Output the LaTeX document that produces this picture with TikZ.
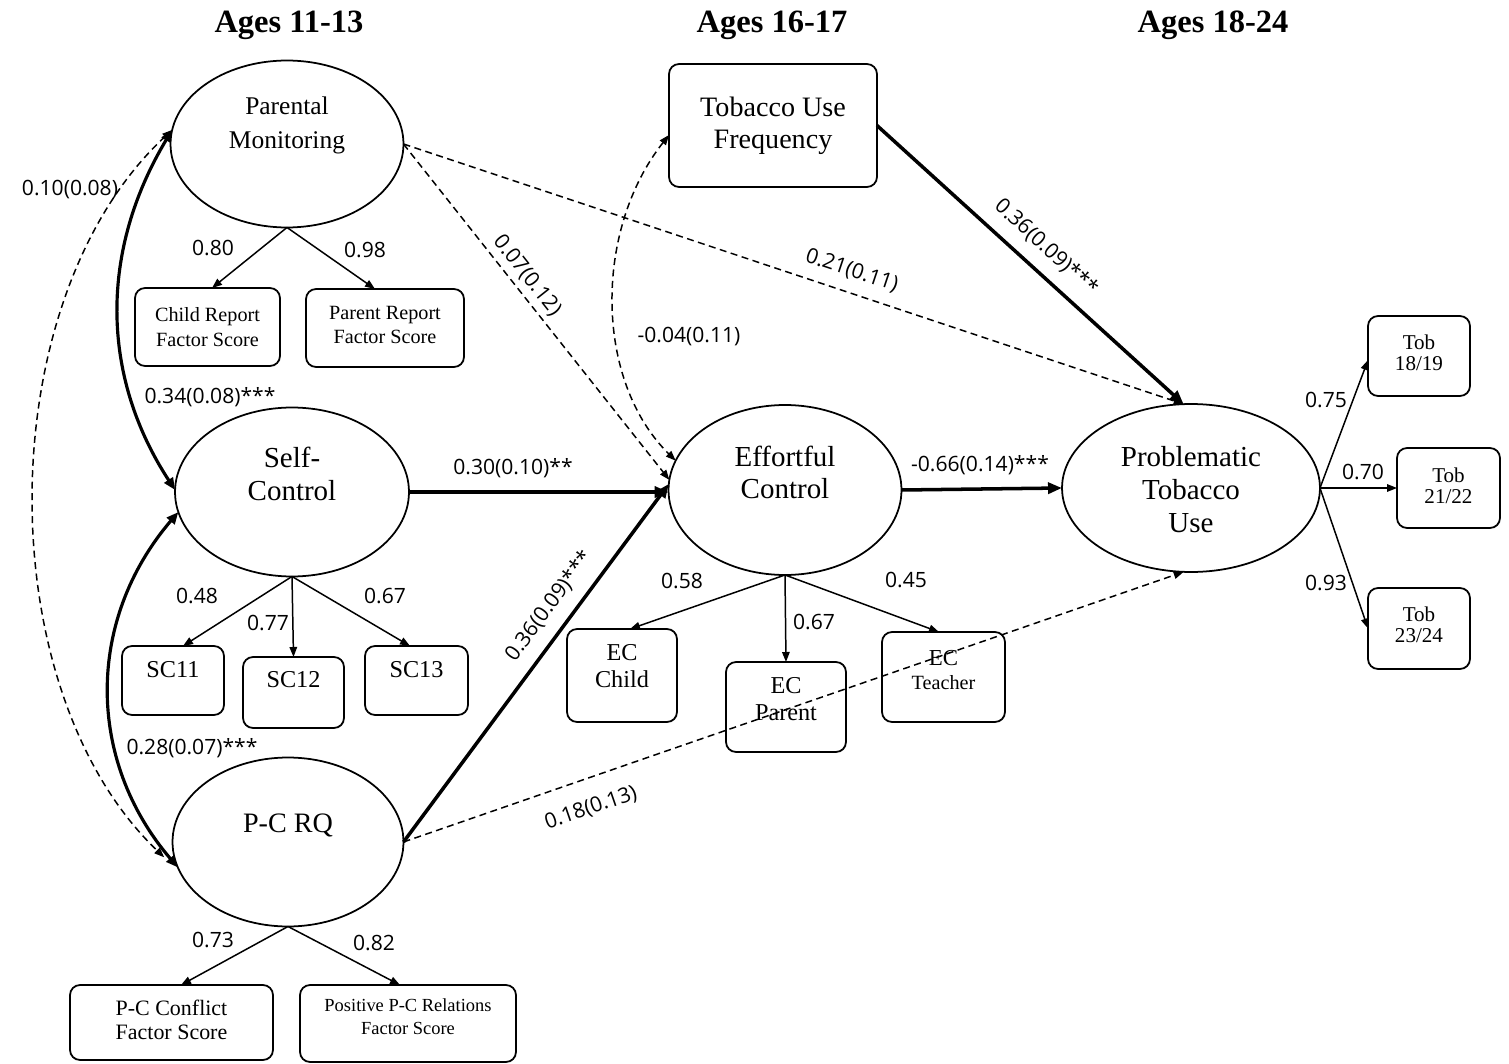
\documentclass[tikz,border=0pt]{standalone}
\usepackage{fontspec}
\setmainfont{Liberation Serif}
\newfontfamily\numfont{Open Sans}
\usetikzlibrary{arrows.meta,shapes.geometric}
\tikzset{
  lat/.style={ellipse, draw, line width=1pt, inner sep=0pt, outer sep=0pt},
  obs/.style={draw, line width=1pt, rounded corners=0.2cm, inner sep=0pt, outer sep=0pt},
  txt/.style={align=center, inner sep=0pt},
  bigtxt/.style={txt, font=\fontsize{16.5}{18.6}\selectfont},
  smalltxt/.style={txt, font=\fontsize{11.5}{14.2}\selectfont},
  midtxt/.style={txt, font=\fontsize{13.8}{15.3}\selectfont},
  tobtxt/.style={txt, font=\fontsize{12}{12}\selectfont},
  num/.style={font=\numfont\fontsize{12}{14}\selectfont, inner sep=1pt},
  hdr/.style={font=\bfseries\fontsize{18.5}{21}\selectfont, inner sep=0pt},
  ln/.style={line width=0.85pt, >={Triangle[length=0.2cm,width=0.15cm]}},
  lncurve/.style={line width=1.8pt, >={Triangle[length=0.24cm,width=0.2cm]}},
  lnthk/.style={line width=2pt, >={Triangle[length=0.28cm,width=0.22cm]}},
  dsh/.style={dash pattern=on 0.14cm off 0.09cm},
}
\begin{document}
\begin{tikzpicture}[x=0.02cm,y=-0.02cm]
\useasboundingbox (0,0) rectangle (1509,1064);

% headers
\node[hdr] (h1) at (289,25) {Ages 11-13};
\node[hdr] (h2) at (772,25) {Ages 16-17};
\node[hdr] (h3) at (1213,25) {Ages 18-24};

% latent variables
\node[lat, minimum width=4.66cm, minimum height=3.34cm,
  label={[txt, yshift=0.37cm, font=\fontsize{14.5}{19.5}\selectfont]center:Parental\\Monitoring}] (pm) at (287,144) {};
\node[lat, minimum width=4.68cm, minimum height=3.38cm,
  label={[bigtxt, yshift=0.36cm]center:Self-\\Control}] (sc) at (292,492) {};
\node[lat, minimum width=4.62cm, minimum height=3.38cm,
  label={[txt, yshift=0.34cm, font=\fontsize{16}{18}\selectfont]center:P-C RQ}] (pc) at (288,842) {};
\node[lat, minimum width=4.66cm, minimum height=3.4cm,
  label={[bigtxt, yshift=0.35cm]center:Effortful\\Control}] (ec) at (785,490) {};
\node[lat, minimum width=5.16cm, minimum height=3.36cm,
  label={[txt, yshift=-0.03cm, font=\fontsize{16.5}{18.8}\selectfont]center:Problematic\\Tobacco\\Use}] (ptu) at (1191,488) {};

% observed variables
\node[obs, minimum width=4.16cm, minimum height=2.46cm,
  label={[txt, font=\fontsize{16}{18.2}\selectfont]center:Tobacco Use\\Frequency}] (tuf) at (773,125.5) {};
\node[obs, minimum width=2.9cm, minimum height=1.56cm,
  label={[smalltxt]center:Child Report\\Factor Score}] (cr) at (207.5,327) {};
\node[obs, minimum width=3.16cm, minimum height=1.56cm,
  label={[smalltxt, yshift=0.06cm]center:Parent Report\\Factor Score}] (pr) at (385,328) {};
\node[obs, minimum width=2.04cm, minimum height=1.38cm,
  label={[midtxt, yshift=0.21cm]center:SC11}] (sc11) at (173,680.5) {};
\node[obs, minimum width=2.02cm, minimum height=1.42cm,
  label={[midtxt, yshift=0.25cm]center:SC12}] (sc12) at (293.5,692.5) {};
\node[obs, minimum width=2.06cm, minimum height=1.38cm,
  label={[midtxt, yshift=0.21cm]center:SC13}] (sc13) at (416.5,680.5) {};
\node[obs, minimum width=2.2cm, minimum height=1.86cm,
  label={[midtxt, yshift=0.18cm]center:EC\\Child}] (ecc) at (622,675.5) {};
\node[obs, minimum width=2.4cm, minimum height=1.8cm,
  label={[midtxt, yshift=0.16cm]center:EC\\Parent}] (ecp) at (786,707) {};
\node[obs, minimum width=2.46cm, minimum height=1.8cm,
  label={[txt, yshift=0.14cm, font=\fontsize{11.5}{13.6}\selectfont]center:{\fontsize{13}{13.6}\selectfont EC}\\Teacher}] (ect) at (943.5,677) {};
\node[obs, minimum width=4.06cm, minimum height=1.5cm,
  label={[txt, yshift=0.05cm, font=\fontsize{12.5}{13.6}\selectfont]center:P-C Conflict\\Factor Score}] (pcc) at (171.5,1022.5) {};
\node[obs, minimum width=4.32cm, minimum height=1.54cm,
  label={[txt, yshift=0.14cm, font=\fontsize{10.5}{13}\selectfont]center:Positive P-C Relations\\Factor Score}] (pos) at (408,1023.5) {};
\node[obs, minimum width=2.04cm, minimum height=1.6cm,
  label={[tobtxt, yshift=0.07cm]center:Tob\\18/19}] (tob1) at (1419,356) {};
\node[obs, minimum width=2.06cm, minimum height=1.6cm,
  label={[tobtxt, yshift=0.05cm]center:Tob\\21/22}] (tob2) at (1448.5,488) {};
\node[obs, minimum width=2.04cm, minimum height=1.62cm,
  label={[tobtxt, yshift=0.07cm]center:Tob\\23/24}] (tob3) at (1419,628.5) {};

% measurement loadings
\draw[ln,->] (pm.south) -- ([xshift=0.09cm]cr.north);
\draw[ln,->] (pm.south) -- ([xshift=-0.2cm]pr.north);
\draw[ln,->] (sc.south) -- ([xshift=0.2cm]sc11.north);
\draw[ln,->] (sc.south) -- (sc12.north);
\draw[ln,->] (sc.south) -- ([xshift=-0.13cm]sc13.north);
\draw[ln,->] (pc.south) -- ([xshift=0.19cm]pcc.north);
\draw[ln,->] (pc.south) -- ([xshift=-0.16cm]pos.north);
\draw[ln,->] (ec.south) -- ([xshift=0.16cm]ecc.north);
\draw[ln,->] (ec.south) -- (ecp.north);
\draw[ln,->] (ec.south) -- ([xshift=-0.09cm]ect.north);
\draw[ln,->] (ptu.east) -- ([yshift=-0.08cm]tob1.west);
\draw[ln,->] (ptu.east) -- (tob2.west);
\draw[ln,->] (ptu.east) -- (tob3.west);

\node[num] (l080) at (213,248) {0.80};
\node[num] (l098) at (365,250) {0.98};
\node[num] (l048) at (197,596) {0.48};
\node[num] (l077) at (268,623) {0.77};
\node[num] (l067a) at (385,596) {0.67};
\node[num] (l073) at (213,940) {0.73};
\node[num] (l082) at (374,943) {0.82};
\node[num] (l058) at (682,581) {0.58};
\node[num] (l067b) at (814,622) {0.67};
\node[num] (l045) at (906,580) {0.45};
\node[num] (l075) at (1326,400) {0.75};
\node[num] (l070) at (1363,472) {0.70};
\node[num] (l093) at (1326,583) {0.93};

% structural paths (solid)
\draw[lnthk,->] (sc.east) -- (sc.east -| ec.west);
\draw[lnthk,->] (pc.east) -- (ec.177)
  node[num, pos=0.62, sloped, above=6pt] (lpcec) {0.36(0.09)***};
\draw[lnthk,->] (ec.east) -- (ptu.west);
\draw[lnthk,->] (tuf.east) -- (ptu.95)
  node[num, pos=0.5, sloped, above=6pt] (ltuf) {0.36(0.09)***};

% structural paths (dashed)
\draw[ln,dsh,->] (pm.east) -- (ec.175)
  node[num, pos=0.42, sloped, above=2pt] (lpmec) {0.07(0.12)};
\draw[ln,dsh,->] (pm.east) -- (ptu.95)
  node[num, pos=0.566, sloped, above=5.5pt] (lpmptu) {0.21(0.11)};
\draw[ln,dsh,->] (pc.east) -- (ptu.265)
  node[num, pos=0.228, sloped, below=10pt] (lpcptu) {0.18(0.13)};
\draw[ln,dsh,<->] ([yshift=-0.19cm]tuf.west) .. controls (594,230) and (594,380) .. (ec.165);

% covariances
\draw[lncurve,<->] (pm.173) .. controls (100,250) and (100,375) .. (sc.179);
\draw[lncurve,<->] (sc.190) .. controls (86,620) and (86,760) .. (pc.193);
\draw[ln,dsh,<->,shorten >=0.45cm] (pm.173) .. controls (-11,300) and (-11,690) .. (pc.196);

% path labels
\node[num] (lcov1) at (70,190) {0.10(0.08)};
\node[num] (lcov2) at (210,397) {0.34(0.08)***};
\node[num] (lcov3) at (192,748) {0.28(0.07)***};
\node[num] (lscec) at (513,468) {0.30(0.10)**};
\node[num] (lecptu) at (980,465) {-0.66(0.14)***};
\node[num] (ltufec) at (689,337) {-0.04(0.11)};
\end{tikzpicture}
\end{document}
